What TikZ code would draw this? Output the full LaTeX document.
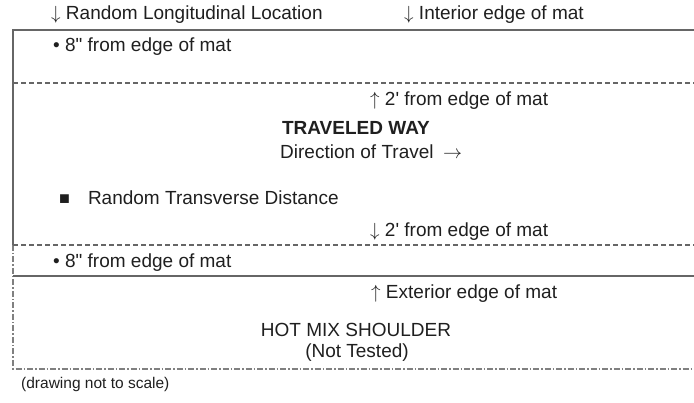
\documentclass[tikz,border=0pt]{standalone}
\usepackage{graphicx}
\usepackage{fontspec}
\setmainfont{Liberation Sans}[Ligatures=TeXOff]
\newcommand{\dnar}{\scalebox{1.9}{\normalsize$\downarrow$}}
\newcommand{\upar}{\scalebox{1.9}{\normalsize$\uparrow$}}
\newcommand{\rtar}{\scalebox{1.9}{\normalsize$\rightarrow$}}
\begin{document}
\begin{tikzpicture}[x=1pt,y=-1pt,
  lbl/.style={inner sep=0pt,anchor=base west,font=\fontsize{19}{21}\selectfont,text=black!88},
  clbl/.style={inner sep=0pt,anchor=base,font=\fontsize{19}{21}\selectfont,text=black!88},
  solidln/.style={draw=black!60,line width=1.3pt},
  dashln/.style={draw=black!60,line width=1.1pt,dash pattern=on 5pt off 3pt},
  dotdashln/.style={draw=black!50,line width=1.1pt,dash pattern=on 6pt off 2pt on 1.5pt off 2pt}]
\useasboundingbox (0,0) rectangle (694,403);
\coordinate (tl) at (13,30);
\coordinate (tr) at (694,30);
\coordinate (d1l) at (13,83);
\coordinate (d1r) at (694,83);
\coordinate (d2l) at (13,245);
\coordinate (d2r) at (694,245);
\coordinate (sl) at (13,276);
\coordinate (sr) at (694,276);
\coordinate (bl) at (13,369);
\coordinate (br) at (694,369);
\draw[dotdashln] (d2l) -- (bl) -- (br);
\draw[solidln] (tr) -- (tl) -- (d2l);
\draw[dashln] (d1l) -- (d1r);
\draw[dashln] (d2l) -- (d2r);
\draw[solidln] (sl) -- (sr);
\node[lbl] (t1) at (51,20) {\dnar\ Random Longitudinal Location};
\node[lbl] (t2) at (404,20) {\dnar\ Interior edge of mat};
\node[lbl] (t3) at (53,52) {• 8" from edge of mat};
\node[lbl] (t4) at (370,106) {\upar\ 2' from edge of mat};
\node[clbl,font=\fontsize{19}{21}\selectfont\bfseries] (t5) at (356,135) {TRAVELED WAY};
\node[lbl] (t6) at (280,159) {Direction of Travel\enspace\rtar};
\node[lbl] (t7) at (59,205) {{\fontsize{18}{18}\selectfont ■}\enspace\, Random Transverse Distance};
\node[lbl] (t8) at (370,237) {\dnar\ 2' from edge of mat};
\node[lbl] (t9) at (53,268) {• 8" from edge of mat};
\node[lbl] (t10) at (371,299) {\upar\ Exterior edge of mat};
\node[clbl] (t11) at (356,337) {HOT MIX SHOULDER};
\node[clbl] (t12) at (357,358) {(Not Tested)};
\node[lbl,font=\fontsize{15.5}{17}\selectfont] (t13) at (21,389) {(drawing not to scale)};
\end{tikzpicture}
\end{document}
